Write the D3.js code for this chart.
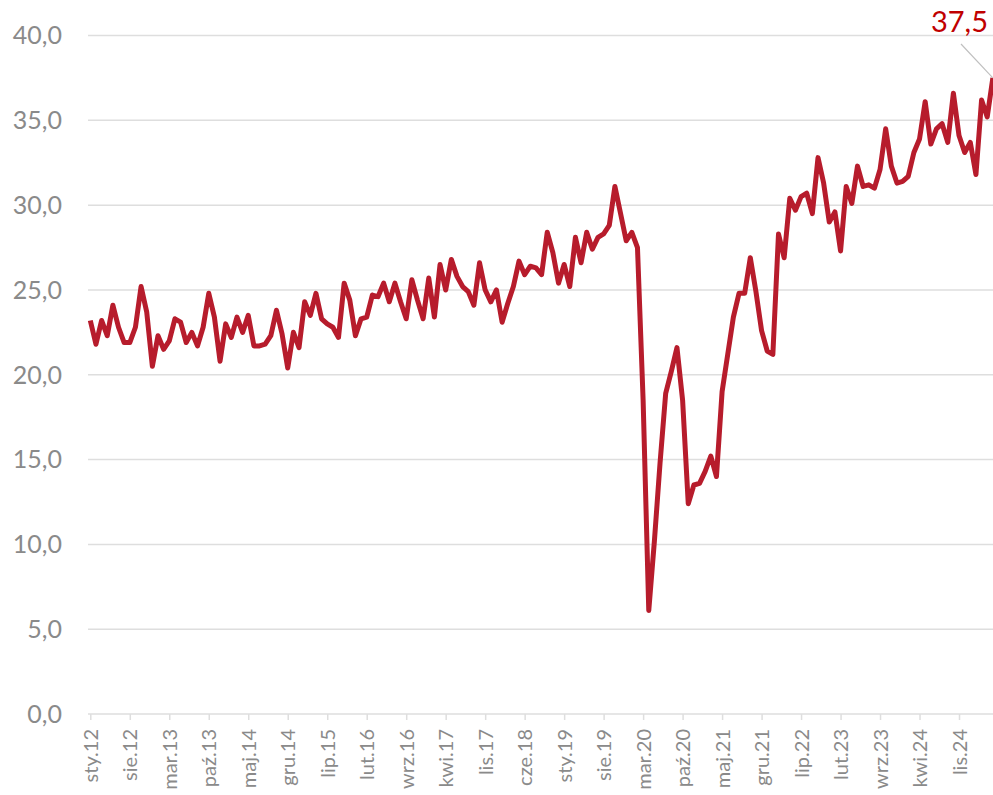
<!DOCTYPE html>
<html>
<head>
<meta charset="utf-8">
<script src="https://cdn.jsdelivr.net/npm/d3@7"></script>
<style>
  html, body { margin: 0; padding: 0; background: #fff; }
  #main-diagram { width: 993px; height: 795px; overflow: hidden; }
</style>
</head>
<body>
<div id="main-diagram"></div>
<script>
// month names used for the category labels
const monthNames = ["sty", "lut", "mar", "kwi", "maj", "cze", "lip", "sie", "wrz", "paź", "lis", "gru"];
const firstYear = 12;

// monthly values, sty.12 .. maj.25
const values = [
  23.2, 21.8, 23.2, 22.3, 24.1, 22.8, 21.9, 21.9, 22.8, 25.2, 23.7, 20.5,
  22.3, 21.5, 22.0, 23.3, 23.1, 21.9, 22.5, 21.7, 22.8, 24.8, 23.4, 20.8,
  23.0, 22.2, 23.4, 22.5, 23.5, 21.7, 21.7, 21.8, 22.3, 23.8, 22.4, 20.4,
  22.5, 21.6, 24.3, 23.5, 24.8, 23.3, 23.0, 22.8, 22.2, 25.4, 24.4, 22.3,
  23.3, 23.4, 24.7, 24.6, 25.4, 24.3, 25.4, 24.3, 23.3, 25.6, 24.4, 23.3,
  25.7, 23.4, 26.5, 25.0, 26.8, 25.8, 25.2, 24.9, 24.1, 26.6, 25.0, 24.3,
  25.0, 23.1, 24.2, 25.2, 26.7, 25.9, 26.4, 26.3, 25.9, 28.4, 27.2, 25.4,
  26.5, 25.2, 28.1, 26.6, 28.4, 27.4, 28.1, 28.3, 28.8, 31.1, 29.5, 27.9,
  28.4, 27.5, 18.5, 6.1, 10.2, 14.8, 18.9, 20.2, 21.6, 18.5, 12.4, 13.5,
  13.6, 14.3, 15.2, 14.0, 19.0, 21.2, 23.4, 24.8, 24.8, 26.9, 24.9, 22.6,
  21.4, 21.2, 28.3, 26.9, 30.4, 29.7, 30.5, 30.7, 29.5, 32.8, 31.3, 29.0,
  29.6, 27.3, 31.1, 30.1, 32.3, 31.1, 31.2, 31.0, 32.1, 34.5, 32.3, 31.3,
  31.4, 31.7, 33.1, 33.9, 36.1, 33.6, 34.5, 34.8, 33.7, 36.6, 34.1, 33.1,
  33.7, 31.8, 36.2, 35.2, 37.5
];

const yTicks = [0, 5, 10, 15, 20, 25, 30, 35, 40];
const labelStep = 7; // every 7th month gets a label
const lastLabel = "37,5";

// category names like "sty.12"
const categories = values.map(function (v, i) {
  const m = i % 12;
  const y = firstYear + Math.floor(i / 12);
  return monthNames[m] + "." + y;
});

const width = 993;
const height = 795;
const fontFamily = "Lato, 'Open Sans', sans-serif";
const greyText = "#8a8a8a";
const gridColour = "#dedede";
const lineColour = "#b71c2c";

const svg = d3
  .select("#main-diagram")
  .append("svg")
  .attr("width", width)
  .attr("height", height);

// scales
const xScale = d3
  .scalePoint()
  .domain(categories)
  .range([90.3, 90.3 + (categories.length - 1) * 5.641]);

const yScale = d3.scaleLinear().domain([0, 40]).range([714, 35.5]);

// horizontal gridlines
svg
  .selectAll(".grid")
  .data(yTicks)
  .enter()
  .append("line")
  .attr("x1", 88)
  .attr("x2", width)
  .attr("y1", function (d) { return yScale(d); })
  .attr("y2", function (d) { return yScale(d); })
  .style("stroke", gridColour)
  .style("stroke-width", 1.5);

// y labels
svg
  .selectAll(".ylabel")
  .data(yTicks)
  .enter()
  .append("text")
  .attr("x", 62)
  .attr("y", function (d) { return yScale(d); })
  .attr("dy", "0.35em")
  .attr("text-anchor", "end")
  .style("font-family", fontFamily)
  .style("font-size", "25px")
  .style("fill", greyText)
  .text(function (d) { return d3.format(".1f")(d).replace(".", ","); });

// x axis with the labels every 7 months
const labelled = categories.filter(function (c, i) { return i % labelStep === 0; });

const xAxis = d3
  .axisBottom(xScale)
  .tickValues(labelled)
  .tickSize(6)
  .tickPadding(0);

const axisG = svg
  .append("g")
  .attr("transform", `translate(0, ${yScale(0)})`)
  .call(xAxis);

axisG.select(".domain").remove();
axisG.selectAll(".tick line").style("stroke", gridColour).style("stroke-width", 1.5);
axisG
  .selectAll(".tick text")
  .attr("transform", "rotate(-90)")
  .attr("x", -15)
  .attr("y", 0)
  .attr("dy", "0.35em")
  .attr("text-anchor", "end")
  .style("font-family", fontFamily)
  .style("font-size", "20px")
  .style("fill", greyText);

// the data line
const line = d3
  .line()
  .x(function (d, i) { return xScale(categories[i]); })
  .y(function (d) { return yScale(d); });

svg
  .append("path")
  .datum(values)
  .attr("d", line)
  .style("fill", "none")
  .style("stroke", lineColour)
  .style("stroke-width", 5)
  .style("stroke-linejoin", "round");

// callout for the last value
const lastX = xScale(categories[categories.length - 1]);
const lastY = yScale(values[values.length - 1]);

svg
  .append("line")
  .attr("x1", 961)
  .attr("y1", 44)
  .attr("x2", lastX)
  .attr("y2", lastY)
  .style("stroke", "#bfbfbf")
  .style("stroke-width", 1.2);

svg
  .append("text")
  .attr("x", 988)
  .attr("y", 32)
  .attr("text-anchor", "end")
  .style("font-family", fontFamily)
  .style("font-size", "29px")
  .style("fill", "#c00000")
  .text(lastLabel);
</script>
</body>
</html>
